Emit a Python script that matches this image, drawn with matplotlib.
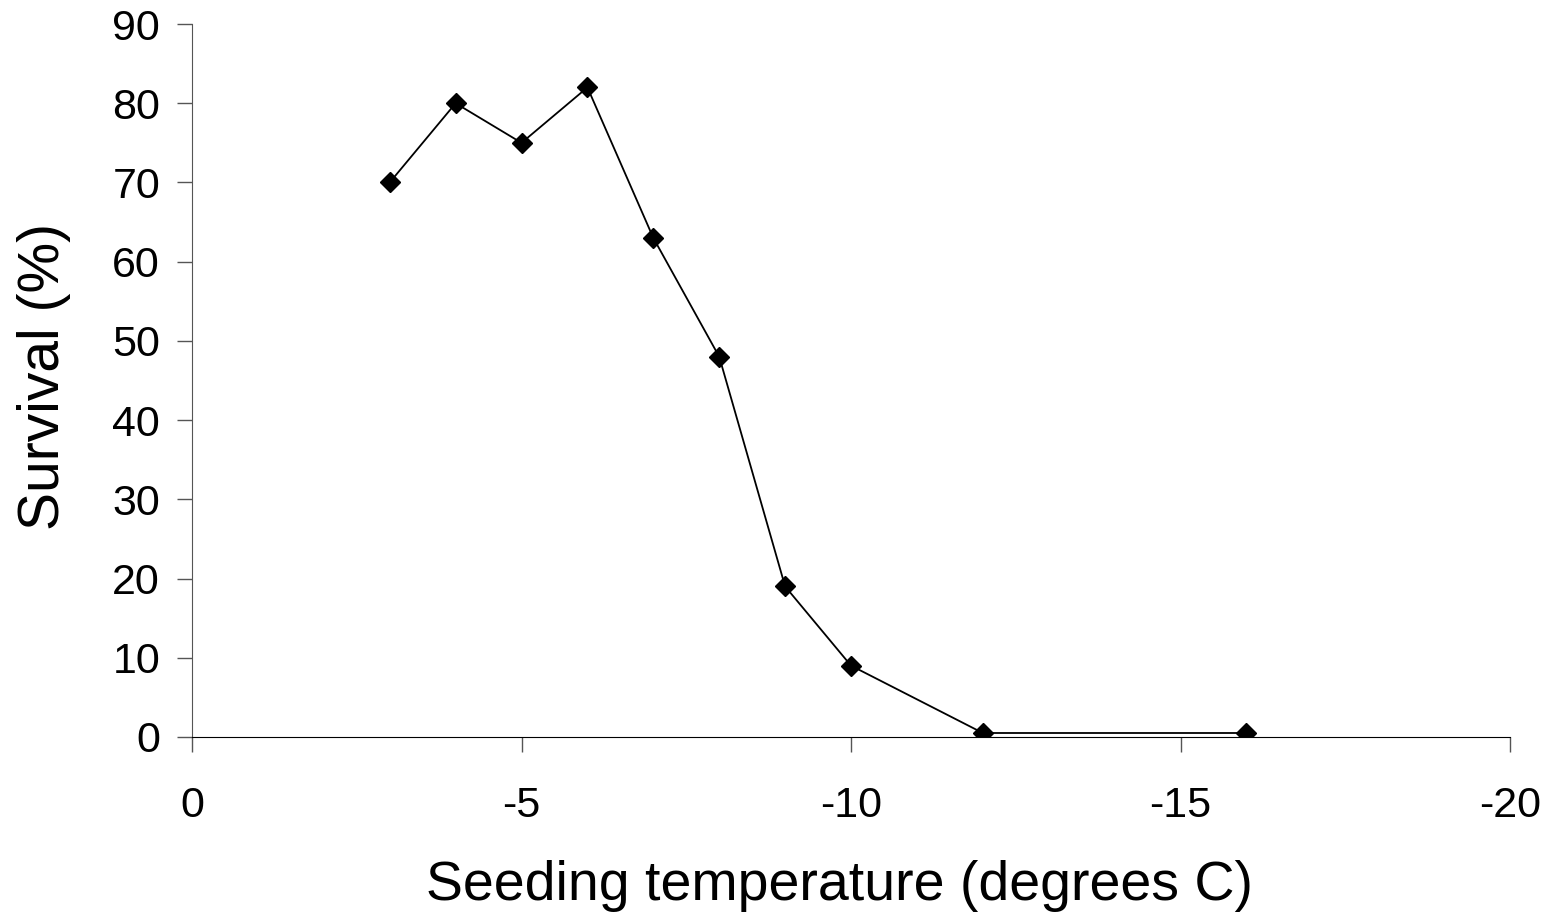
import matplotlib
matplotlib.use("Agg")
import matplotlib.pyplot as plt

temps = [-3, -4, -5, -6, -7, -8, -9, -10, -12, -16]
survival = [70, 80, 75, 82, 63, 48, 19, 9, 0.5, 0.5]
xticks = [0, -5, -10, -15, -20]
yticks = list(range(0, 91, 10))

plt.rcParams['font.family'] = ['Liberation Sans', 'DejaVu Sans']
fig = plt.figure(figsize=(15.51, 9.14), dpi=100)
ax = fig.add_axes([0.1238, 0.1937, 0.8498, 0.78])
ax.plot(temps, survival, color='black', lw=1.3, marker='D', markersize=10.5)
ax.set_xlim(0, -20)
ax.set_ylim(0, 90)
ax.set_xticks(xticks)
ax.set_xticklabels([str(t) for t in xticks])
ax.set_yticks(yticks)
for s in ['top', 'right']:
    ax.spines[s].set_visible(False)
ax.spines['left'].set_color('#555555')
ax.spines['bottom'].set_color('black')
ax.tick_params(axis='both', length=11, width=1, color='#555555', labelsize=31)
ax.tick_params(axis='x', pad=24)
ax.tick_params(axis='y', pad=12)
ax.set_xlabel('Seeding temperature (degrees C)', fontsize=40, labelpad=25)
ax.set_ylabel('Survival (%)', fontsize=41, labelpad=30)
ax.xaxis.label.set_x(0.491)
ax.yaxis.label.set_y(0.505)
fig.savefig('out.png', dpi=100)
